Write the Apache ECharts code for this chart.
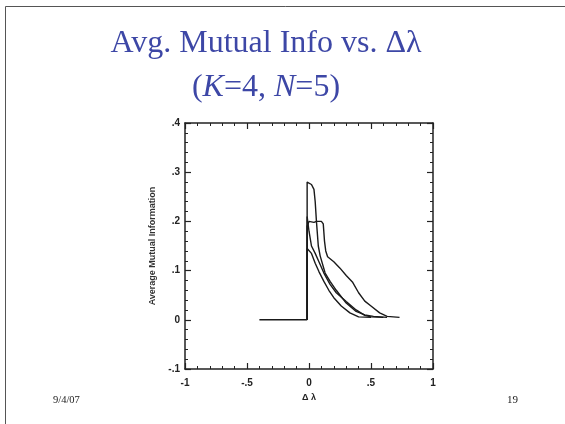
<!DOCTYPE html>
<html><head><meta charset="utf-8">
<script src="https://cdn.jsdelivr.net/npm/echarts@6/dist/echarts.min.js"></script>
<style>html,body{margin:0;padding:0;background:#fff}#c{width:565px;height:424px}</style>
</head><body><div id="c"></div>
<script>
const xTicks = [-1, -0.5, 0, 0.5, 1];
const yTicks = [-0.1, 0, 0.1, 0.2, 0.3, 0.4];
const baseX = [-0.4, -0.015];
const baseY = [0, 0];
const aX = [-0.015,-0.015,0.02,0.04,0.05,0.06,0.075,0.09,0.13,0.17,0.22,0.3,0.38,0.45,0.52,0.63];
const aY = [0,0.28,0.275,0.265,0.24,0.2,0.15,0.13,0.095,0.078,0.06,0.034,0.017,0.01,0.007,0.005];
const bX = [-0.015,-0.015,0.0,0.04,0.06,0.1,0.115,0.125,0.135,0.15,0.2,0.25,0.3,0.35,0.4,0.45,0.5,0.57,0.63,0.73];
const bY = [0,0.19,0.2,0.198,0.2,0.2,0.195,0.16,0.14,0.128,0.118,0.105,0.09,0.077,0.055,0.038,0.028,0.014,0.007,0.005];
const cX = [-0.015,-0.015,0.0,0.02,0.05,0.08,0.12,0.17,0.22,0.3,0.38,0.45,0.5,0.6];
const cY = [0,0.21,0.18,0.15,0.135,0.118,0.095,0.072,0.055,0.037,0.02,0.009,0.006,0.005];
const dX = [-0.015,-0.015,0.0,0.02,0.05,0.08,0.12,0.16,0.2,0.26,0.33,0.4,0.5];
const dY = [0,0.145,0.145,0.135,0.115,0.098,0.078,0.06,0.045,0.028,0.014,0.006,0.005];

function pts(xs, ys){ return xs.map((x,i)=>[x, ys[i]]); }
function fmt(v){
  if (Math.abs(v) < 1e-9) return '0';
  const s = (Math.round(v*10)/10).toString();
  return s.replace(/^(-?)0\./, '$1.');
}
const ink = '#222';
const axisCommon = {
  axisLine: {show: true, onZero: false, lineStyle: {color: ink, width: 1.5}},
  axisTick: {show: true, inside: true, length: 6, lineStyle: {color: ink, width: 1.2}},
  minorTick: {show: true, splitNumber: 5, length: 3, lineStyle: {color: ink, width: 1}},
  splitLine: {show: false}
};
const lblStyle = {color: ink, fontFamily: 'Liberation Sans', fontWeight: 'bold', fontSize: 10};
function xa(pos, show){
  return Object.assign({}, axisCommon, {
    type: 'value', position: pos, min: xTicks[0], max: xTicks[xTicks.length-1], interval: 0.5,
    axisLabel: Object.assign({show: show, margin: 9, formatter: fmt}, lblStyle),
    name: show ? 'Δ λ' : '', nameLocation: 'middle', nameGap: 20,
    nameTextStyle: {color: ink, fontFamily: 'Liberation Sans', fontWeight: 'bold', fontSize: 9}
  });
}
function ya(pos, show){
  return Object.assign({}, axisCommon, {
    type: 'value', position: pos, min: yTicks[0], max: yTicks[yTicks.length-1], interval: 0.1,
    axisLabel: Object.assign({show: show, margin: 5, formatter: fmt}, lblStyle),
    name: show ? 'Average Mutual Information' : '', nameLocation: 'middle', nameGap: 28,
    nameTextStyle: {color: '#333', fontFamily: 'Liberation Sans', fontWeight: 'bold', fontSize: 9}
  });
}
const lineSty = {color: '#1a1a1a', width: 1.4};
function ser(d){ return {type: 'line', data: d, showSymbol: false, symbol: 'none', lineStyle: lineSty, xAxisIndex: 0, yAxisIndex: 0, animation: false}; }

const titleColor = '#3d47a6';
const chart = echarts.init(document.getElementById('c'), null, {renderer: 'canvas'});
chart.setOption({
  backgroundColor: '#fff',
  animation: false,
  grid: {left: 185, top: 123, width: 248, height: 246, containLabel: false},
  xAxis: [xa('bottom', true), xa('top', false)],
  yAxis: [ya('left', true), ya('right', false)],
  series: [ser(pts(baseX, baseY)), ser(pts(aX, aY)), ser(pts(bX, bY)), ser(pts(cX, cY)), ser(pts(dX, dY))],
  graphic: [
    {type: 'line', shape: {x1: 5.5, y1: 6.5, x2: 565, y2: 6.5}, style: {stroke: '#555', lineWidth: 1}},
    {type: 'line', shape: {x1: 5.5, y1: 6.5, x2: 5.5, y2: 424}, style: {stroke: '#555', lineWidth: 1}},
    {type: 'text', x: 266, y: 44, style: {text: 'Avg. Mutual Info vs. Δλ', fill: titleColor, font: '32px "Liberation Serif"', textAlign: 'center', textVerticalAlign: 'middle'}},
    {type: 'text', x: 266, y: 88, style: {
      text: '({i|K}=4, {i|N}=5)', fill: titleColor, font: '32px "Liberation Serif"', textAlign: 'center', textVerticalAlign: 'middle',
      rich: {i: {fontStyle: 'italic', fill: titleColor, fontFamily: 'Liberation Serif', fontSize: 32}}
    }},
    {type: 'text', x: 53, y: 400, style: {text: '9/4/07', fill: '#222', font: '10.5px "Liberation Serif"', textVerticalAlign: 'middle'}},
    {type: 'text', x: 507, y: 400, style: {text: '19', fill: '#222', font: '11px "Liberation Serif"', textVerticalAlign: 'middle'}}
  ]
});
</script></body></html>
